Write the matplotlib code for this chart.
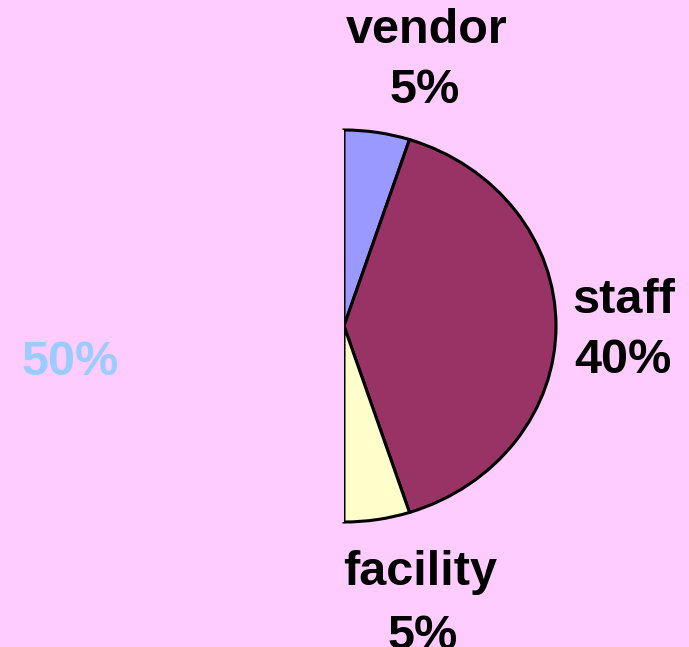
import matplotlib.pyplot as plt

# slice data, clockwise from 12 o'clock
categories = ['vendor', 'staff', 'facility', '']
values = [5, 40, 5, 50]
pct_labels = ['5%', '40%', '5%', '50%']

BG = '#FFCCFF'
colors = ['#9999FF', '#993366', '#FFFFCC', BG]

W, H = 689, 647
fig = plt.figure(figsize=(W / 100, H / 100), dpi=100, facecolor=BG)
ax = fig.add_axes([0, 0, 1, 1])
ax.set_facecolor(BG)

wedges, _ = ax.pie(values, colors=colors, startangle=90, counterclock=False,
                   radius=1.0, center=(0, 0),
                   wedgeprops=dict(edgecolor='black', linewidth=2.2))
# hidden half: same as background, no outline
wedges[-1].set_edgecolor(BG)
wedges[-1].set_linewidth(0)

# pie is slightly stretched horizontally in the original
cx, cy = 344, 326        # centre in pixels
rx, ry = 212, 196        # radii in pixels
ax.set_aspect('auto')
ax.set_xlim(-cx / rx, (W - cx) / rx)
ax.set_ylim(-(H - cy) / ry, cy / ry)
ax.set_axis_off()

# label positions in pixels: (x name, baseline name, x pct, baseline pct)
label_pos = [
    (427, 43, 425, 103),
    (624, 313, 623, 373),
    (420, 585, 423, 649),
    (None, None, 70, 375),
]
font = dict(family='Liberation Sans', weight='bold', size=35)
for name, pct, pos in zip(categories, pct_labels, label_pos):
    nx, ny, px, py = pos
    col = '#99CCFF' if name == '' else 'black'
    if name:
        fig.text(nx / W, 1 - ny / H, name, ha='center', va='baseline',
                 color=col, **font)
    fig.text(px / W, 1 - py / H, pct, ha='center', va='baseline',
             color=col, **font)

fig.savefig('out.png', dpi=100, facecolor=BG)
